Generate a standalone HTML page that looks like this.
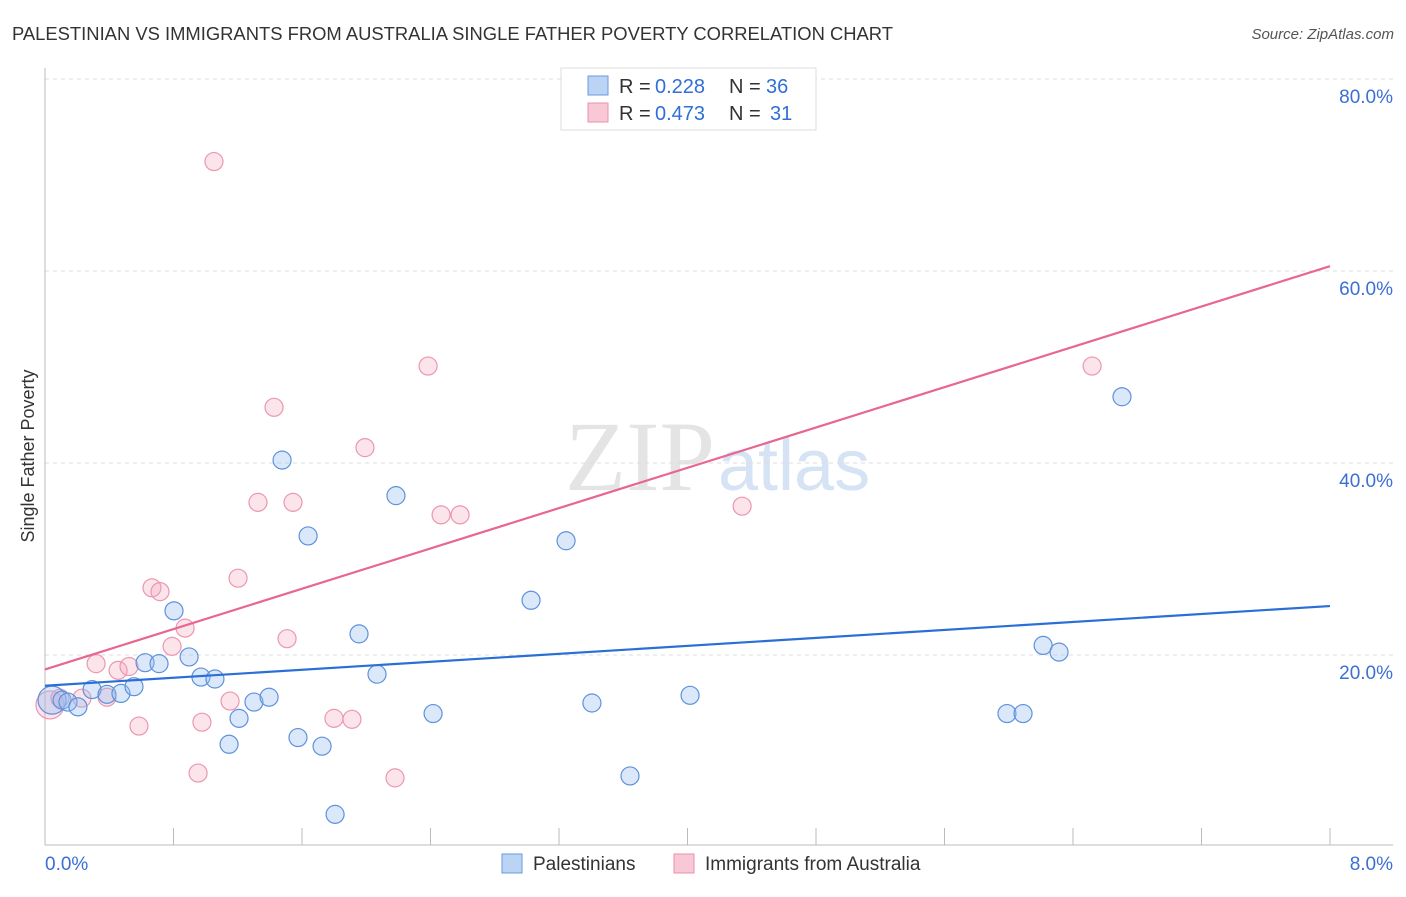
<!DOCTYPE html>
<html><head><meta charset="utf-8"><style>
body{margin:0;background:#fff;font-family:"Liberation Sans",sans-serif;}
</style></head><body>
<svg width="1406" height="892" xmlns="http://www.w3.org/2000/svg" font-family="Liberation Sans, sans-serif">
<text x="12" y="40" font-size="18" fill="#333" textLength="881" lengthAdjust="spacingAndGlyphs">PALESTINIAN VS IMMIGRANTS FROM AUSTRALIA SINGLE FATHER POVERTY CORRELATION CHART</text>
<text x="1394" y="39" font-size="15" fill="#555" font-style="italic" text-anchor="end">Source: ZipAtlas.com</text>
<text x="715" y="490" font-size="100" fill="#e4e4e4" text-anchor="end" font-family="Liberation Serif, serif">ZIP</text>
<text x="718" y="490" font-size="72" fill="#d6e3f5">atlas</text>
<g id="grid"></g><g id="axes"></g><g id="pts"></g><g id="lines"></g>
<text transform="translate(34,456) rotate(-90)" font-size="18" fill="#333" text-anchor="middle">Single Father Poverty</text>
<g>
<rect x="561" y="68" width="255" height="62" fill="#fff" stroke="#ddd"/>
<rect x="588" y="76" width="20" height="19" fill="#bcd4f4" stroke="#6b9ae0"/>
<rect x="588" y="103" width="20" height="19" fill="#f9c8d7" stroke="#e892ad"/>
<text x="619" y="93" font-size="20" fill="#333">R =</text>
<text x="655" y="93" font-size="20" fill="#2f6fd6">0.228</text>
<text x="729" y="93" font-size="20" fill="#333">N =</text>
<text x="766" y="93" font-size="20" fill="#2f6fd6">36</text>
<text x="619" y="120" font-size="20" fill="#333">R =</text>
<text x="655" y="120" font-size="20" fill="#2f6fd6">0.473</text>
<text x="729" y="120" font-size="20" fill="#333">N =</text>
<text x="770" y="120" font-size="20" fill="#2f6fd6">31</text>
</g>
<g>
<rect x="502" y="854" width="20" height="19" fill="#bcd4f4" stroke="#6b9ae0"/>
<text x="533" y="870" font-size="19" fill="#333">Palestinians</text>
<rect x="674" y="854" width="20" height="19" fill="#f9c8d7" stroke="#e892ad"/>
<text x="705" y="870" font-size="19" fill="#333">Immigrants from Australia</text>
</g>
</svg>
<script>
const blueX=[0.044,0.106,0.143,0.205,0.293,0.386,0.473,0.554,0.623,0.710,0.803,0.897,0.971,1.058,1.146,1.208,1.301,1.395,1.476,1.575,1.638,1.725,1.806,1.955,2.067,2.185,2.416,3.026,3.244,3.405,3.642,4.016,5.989,6.089,6.214,6.313,6.705];
const blueY=[15.3,15.3,15.1,14.6,16.4,15.9,16.0,16.7,19.2,19.1,24.6,19.8,17.7,17.5,10.7,13.4,15.1,15.6,40.3,11.4,32.4,10.5,3.4,22.2,18.0,36.6,13.9,25.7,31.9,15.0,7.4,15.8,13.9,13.9,21.0,20.3,46.9];
const pinkX=[0.031,0.093,0.230,0.318,0.386,0.455,0.523,0.585,0.666,0.716,0.791,0.872,0.953,0.977,1.052,1.152,1.202,1.326,1.426,1.507,1.544,1.799,1.911,1.992,2.179,2.385,2.466,2.584,4.340,6.519];
const pinkY=[14.8,15.5,15.5,19.1,15.6,18.4,18.8,12.6,27.0,26.6,20.9,22.8,7.7,13.0,71.4,15.2,28.0,35.9,45.8,21.7,35.9,13.4,13.3,41.6,7.2,50.1,34.6,34.6,35.5,50.1];
const blueTrend=[16.8,25.1];
const pinkTrend=[18.5,60.5];
const yTicks=[20,40,60,80];
const xTickCount=10;
const NS="http://www.w3.org/2000/svg";
const sx=v=>45+v/8*1285, sy=v=>847-v*9.6;
function mk(t,a,p){const e=document.createElementNS(NS,t);for(const k in a)e.setAttribute(k,a[k]);document.getElementById(p).appendChild(e);return e;}
yTicks.forEach(v=>{
 const l=mk('line',{x1:45,x2:1393,y1:sy(v),y2:sy(v),stroke:'#ddd','stroke-dasharray':'4,4'},'grid');
 
 
 const t=mk('text',{x:1393,y:sy(v)+24,'font-size':19,fill:'#3b6fd4','text-anchor':'end'},'grid');
 
 
 t.textContent=v.toFixed(1)+'%';
});
const ax=mk('line',{x1:45,x2:45,y1:68,y2:845,stroke:'#bbb'},'axes');


const bx=mk('line',{x1:45,x2:1393,y1:845,y2:845,stroke:'#bbb'},'axes');


for(let i=1;i<=xTickCount;i++){const x=sx(i*0.8);
 const t=mk('line',{x1:x,x2:x,y1:828,y2:845,stroke:'#bbb'},'axes');
 
 }
[[0,'0.0%',45,'start'],[8,'8.0%',1393,'end']].forEach(d=>{
 const t=mk('text',{x:d[2],y:870,'font-size':19,fill:'#3b6fd4','text-anchor':d[3]},'axes');
 
 
 t.textContent=d[1];});
function pts(X,Y,fill,stroke,name){X.forEach((x,i)=>{
 const c=mk('circle',{cx:sx(x),cy:sy(Y[i]),r:i==0?14:9,fill:fill,stroke:stroke,'stroke-width':1.2},'pts');
 
 });}
pts(pinkX,pinkY,'rgba(245,165,190,0.3)','#eb97b1','pink-point');
pts(blueX,blueY,'rgba(150,190,240,0.35)','#5e92dc','blue-point');
const bl=mk('line',{x1:sx(0),y1:sy(blueTrend[0]),x2:sx(8),y2:sy(blueTrend[1]),stroke:'#2a6fd6','stroke-width':2.2},'lines');


const pl=mk('line',{x1:sx(0),y1:sy(pinkTrend[0]),x2:sx(8),y2:sy(pinkTrend[1]),stroke:'#e8668f','stroke-width':2.2},'lines');


</script>
</body></html>
